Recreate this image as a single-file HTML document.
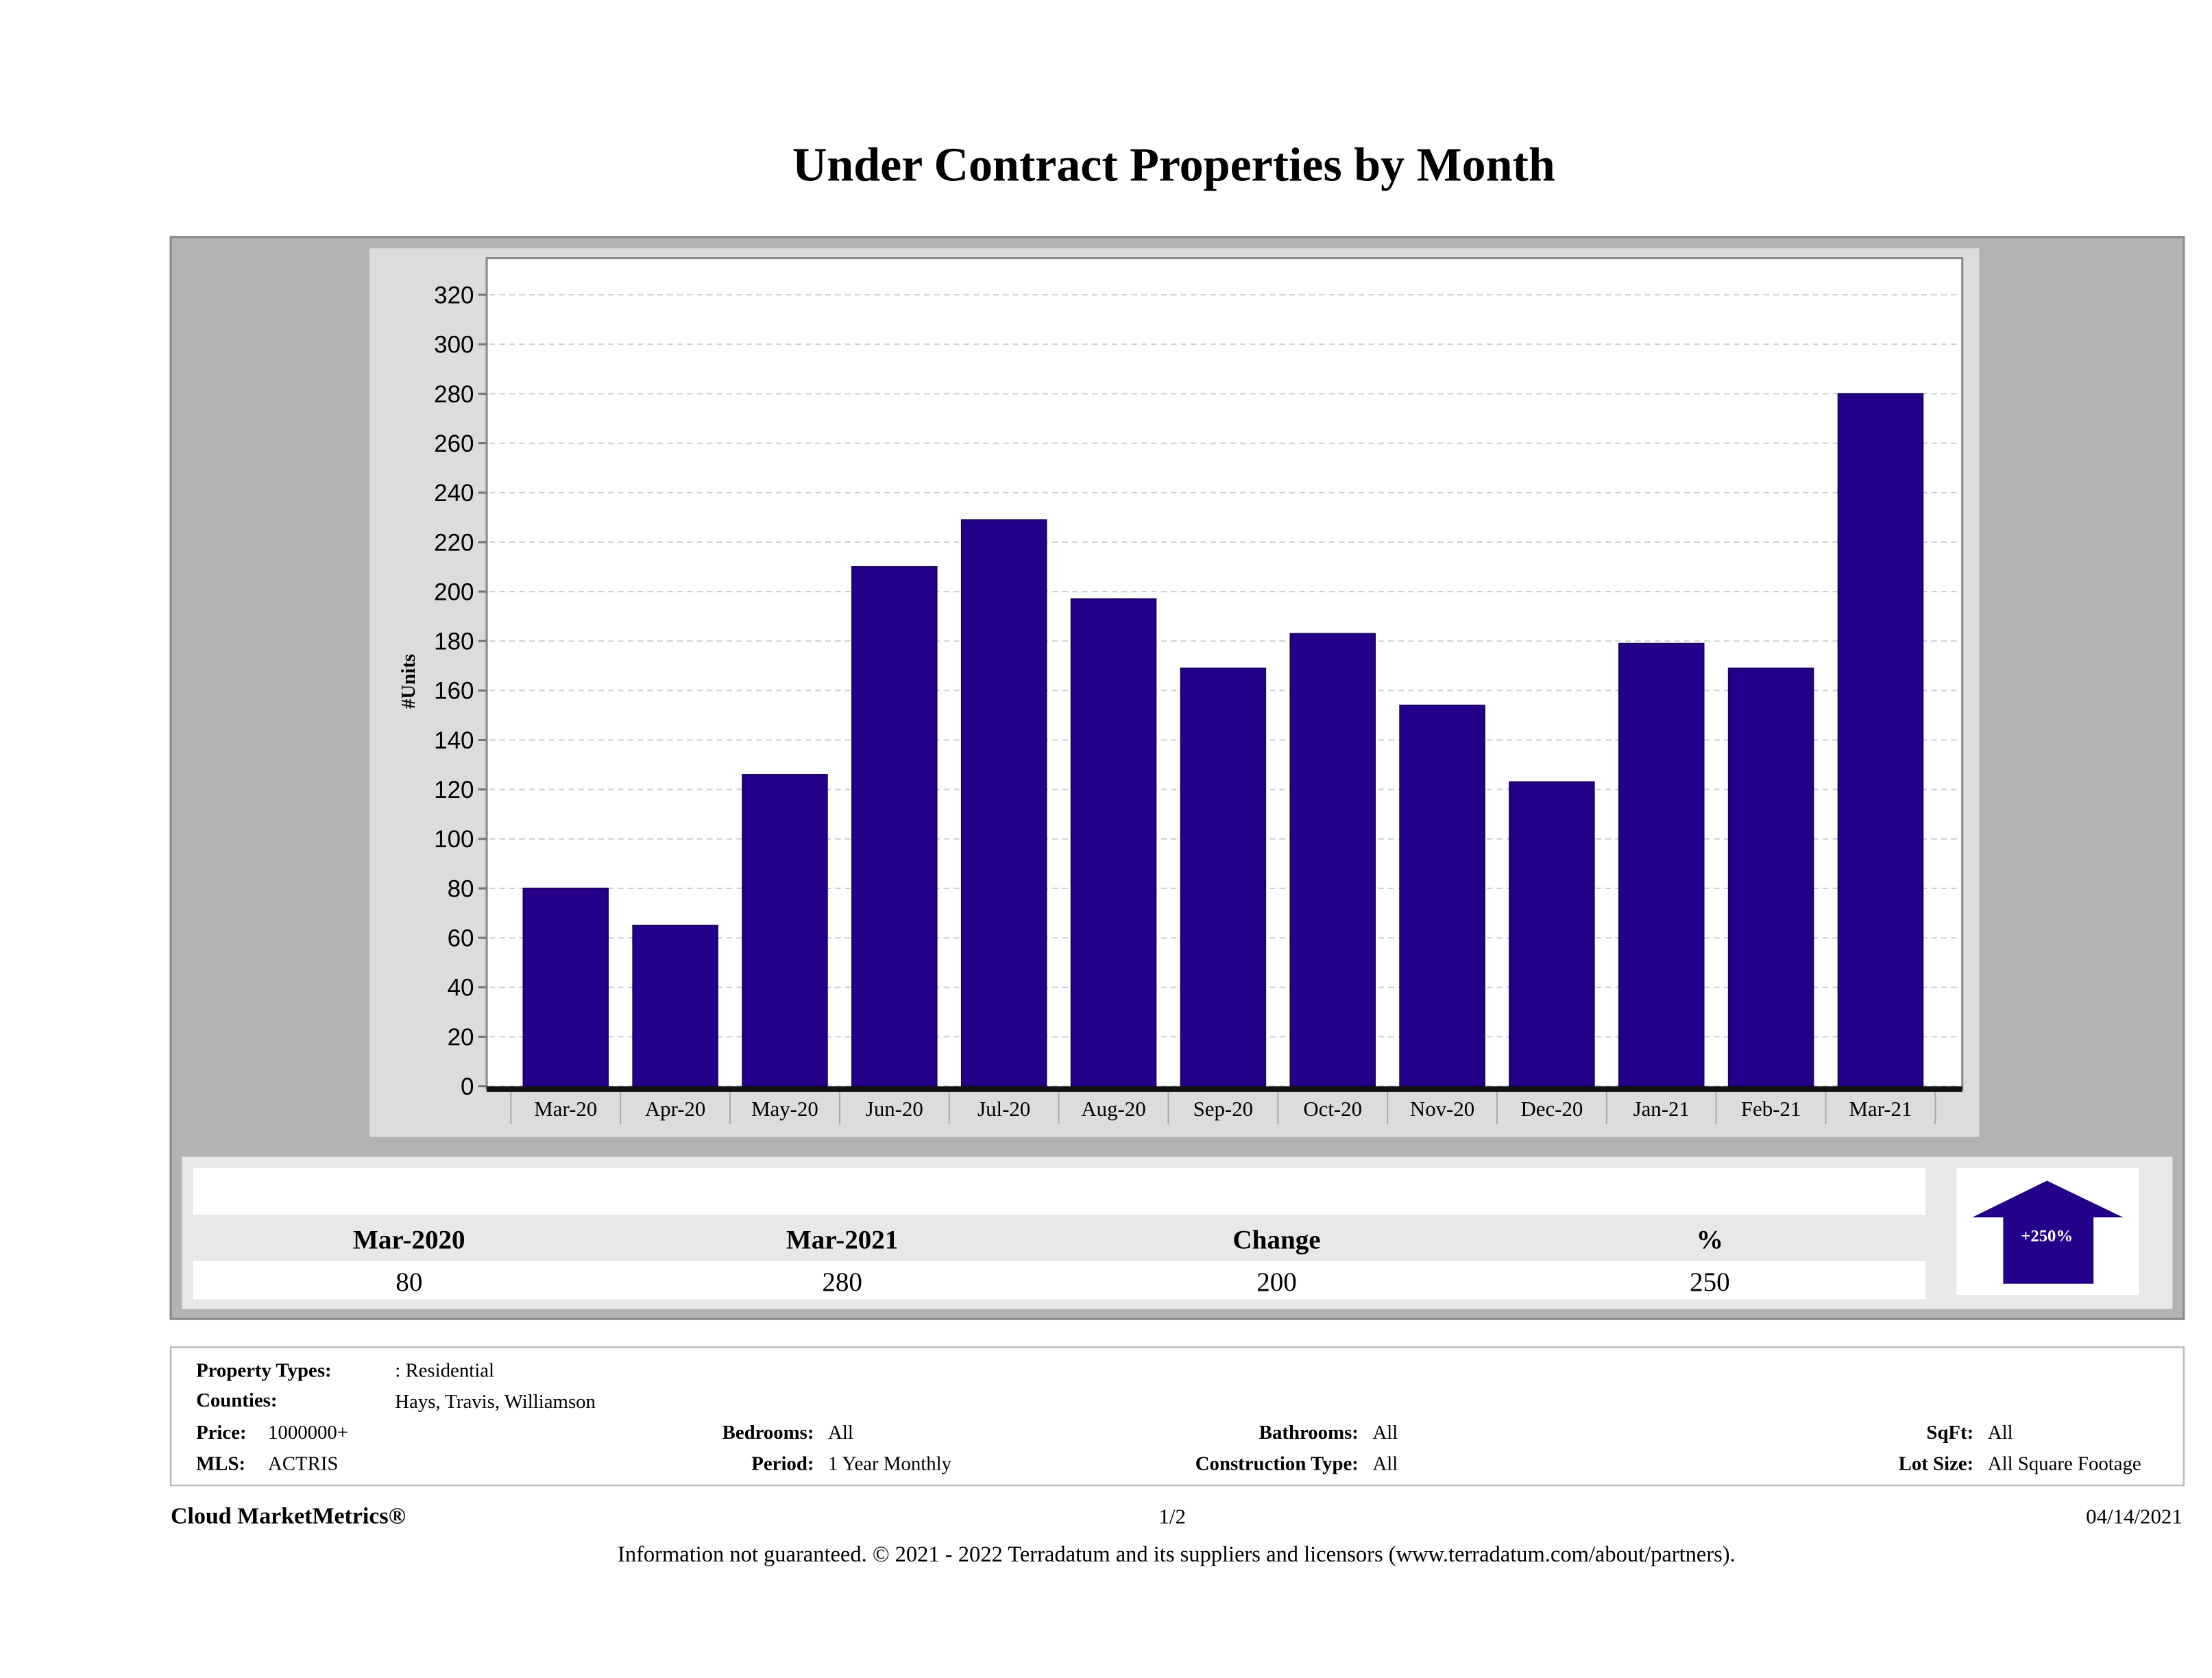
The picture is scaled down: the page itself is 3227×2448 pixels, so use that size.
<!DOCTYPE html>
<html><head><meta charset="utf-8"><style>
html,body{margin:0;padding:0;background:#fff;}
svg{display:block;font-family:"Liberation Serif",serif;}
</style></head><body>
<svg id="chart" width="3227" height="2448" viewBox="0 0 1568 1189.5" preserveAspectRatio="none" xmlns="http://www.w3.org/2000/svg">
<rect x="0" y="0" width="1568" height="1189.5" fill="#fff"/>
<text x="832" y="128" text-anchor="middle" font-size="34" font-weight="bold">Under Contract Properties by Month</text>
<rect x="121" y="168" width="1427" height="767" fill="#b3b3b3" stroke="#8a8a8a" stroke-width="1.5"/>
<rect x="262" y="176" width="1141" height="630" fill="#dcdcdc"/>
<rect x="345" y="183" width="1046" height="589" fill="#fff" stroke="#888" stroke-width="1.5"/>
<g id="grid"></g>
<g id="bars"></g>
<g id="xaxis"></g>
<text transform="translate(294,483) rotate(-90)" text-anchor="middle" font-size="14" font-weight="bold">#Units</text>

<rect x="129" y="820" width="1411" height="108" fill="#e8e8e8"/>
<rect x="137" y="828" width="1228" height="33" fill="#fff"/>
<rect x="137" y="894" width="1228" height="27" fill="#fff"/>
<g font-size="19" font-weight="bold" text-anchor="middle">
<text x="290" y="885">Mar-2020</text>
<text x="597" y="885">Mar-2021</text>
<text x="905" y="885">Change</text>
<text x="1212" y="885">%</text>
</g>
<g font-size="19" text-anchor="middle">
<text x="290" y="915">80</text>
<text x="597" y="915">280</text>
<text x="905" y="915">200</text>
<text x="1212" y="915">250</text>
</g>
<rect x="1387" y="828" width="129" height="90" fill="#fff"/>
<polygon points="1451,837 1505,863 1484,863 1484,910 1420,910 1420,863 1398,863" fill="#24008a"/>
<text x="1451" y="880" text-anchor="middle" font-size="12" font-weight="bold" fill="#fff">+250%</text>

<rect x="121" y="955" width="1427" height="98" fill="#fff" stroke="#bbb" stroke-width="1.2"/>
<g font-size="14">
<text x="139" y="976" font-weight="bold">Property Types:</text>
<text x="280" y="976">: Residential</text>
<text x="139" y="997" font-weight="bold">Counties:</text>
<text x="280" y="998">Hays, Travis, Williamson</text>
<text x="139" y="1020" font-weight="bold">Price:</text>
<text x="190" y="1020">1000000+</text>
<text x="139" y="1042" font-weight="bold">MLS:</text>
<text x="190" y="1042">ACTRIS</text>
<text x="577" y="1020" font-weight="bold" text-anchor="end">Bedrooms:</text>
<text x="587" y="1020">All</text>
<text x="577" y="1042" font-weight="bold" text-anchor="end">Period:</text>
<text x="587" y="1042">1 Year Monthly</text>
<text x="963" y="1020" font-weight="bold" text-anchor="end">Bathrooms:</text>
<text x="973" y="1020">All</text>
<text x="963" y="1042" font-weight="bold" text-anchor="end">Construction Type:</text>
<text x="973" y="1042">All</text>
<text x="1399" y="1020" font-weight="bold" text-anchor="end">SqFt:</text>
<text x="1409" y="1020">All</text>
<text x="1399" y="1042" font-weight="bold" text-anchor="end">Lot Size:</text>
<text x="1409" y="1042">All Square Footage</text>
</g>
<text x="121" y="1080" font-size="16.5" font-weight="bold">Cloud MarketMetrics®</text>
<text x="831" y="1080" font-size="15" text-anchor="middle">1/2</text>
<text x="1547" y="1080" font-size="15" text-anchor="end">04/14/2021</text>
<text x="834" y="1107" font-size="15.8" text-anchor="middle">Information not guaranteed. © 2021 - 2022 Terradatum and its suppliers and licensors (www.terradatum.com/about/partners).</text>
</svg>
<script>
const categories = ["Mar-20","Apr-20","May-20","Jun-20","Jul-20","Aug-20","Sep-20","Oct-20","Nov-20","Dec-20","Jan-21","Feb-21","Mar-21"];
const units = [80,65,126,210,229,197,169,183,154,123,179,169,280];
const yTicks = [0,20,40,60,80,100,120,140,160,180,200,220,240,260,280,300,320];

const NS = "http://www.w3.org/2000/svg";
const y0 = 770, yPerUnit = 561/320;
function yScale(v){ return y0 - v * yPerUnit; }
const xStart = 371, step = 77.67, barW = 60;
function xScale(i){ return xStart + i * step; }
function mk(tag, attrs, parent){
  const e = document.createElementNS(NS, tag);
  for (const k in attrs) e.setAttribute(k, attrs[k]);
  parent.appendChild(e);
  return e;
}
const grid = document.getElementById('grid');
yTicks.forEach(t => {
  const y = yScale(t);
  const l = mk('line', {x1:347, x2:1389, y1:y, y2:y, stroke:'#d0d0d0', 'stroke-width':1, 'stroke-dasharray':'4,3'}, grid);
  
  
  const tk = mk('line', {x1:339, x2:345, y1:y, y2:y, stroke:'#777', 'stroke-width':1.5}, grid);
  
  
  const tx = mk('text', {x:336, y:y+6, 'text-anchor':'end', 'font-size':17, 'font-family':'Liberation Sans, sans-serif'}, grid);
  tx.textContent = t;
  
  
});
const bars = document.getElementById('bars');
units.forEach((v, i) => {
  const r = mk('rect', {x:xScale(i), y:yScale(v), width:barW, height:y0 - yScale(v), fill:'#24008a', stroke:'#1a0060', 'stroke-width':1}, bars);
  
  
});
const xa = document.getElementById('xaxis');
const ax = mk('rect', {x:345, y:770, width:1046, height:4, fill:'#111'}, xa);


for (let i = 0; i <= categories.length; i++) {
  const x = xScale(i) - (step - barW) / 2;
  const s = mk('line', {x1:x, x2:x, y1:774, y2:797, stroke:'#aaa', 'stroke-width':1}, xa);
  
  
}
categories.forEach((c, i) => {
  const t = mk('text', {x:xScale(i) + barW/2, y:791, 'text-anchor':'middle', 'font-size':15}, xa);
  t.textContent = c;
  
  
});
</script>
</body></html>
